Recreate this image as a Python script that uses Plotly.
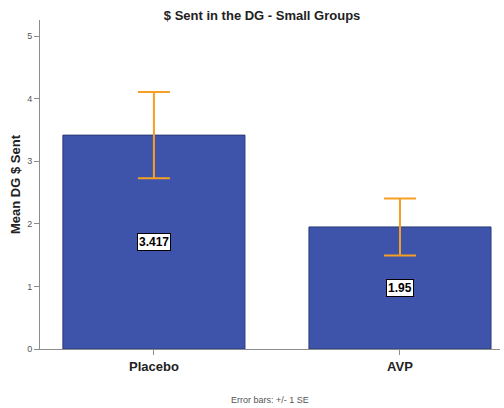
import plotly.graph_objects as go

# Mean DG dollars sent per treatment group, with standard errors
groups = ["Placebo", "AVP"]
means = [3.417, 1.95]
std_errors = [0.69, 0.455]
value_labels = ["3.417", "1.95"]

BAR_FILL = "#3E54AA"
BAR_EDGE = "#2B3A78"
ERR_COLOR = "#F5A025"
AXIS_GRAY = "#8C8C8C"
FONT = "Liberation Sans, Arial, sans-serif"

fig = go.Figure()
fig.add_trace(go.Bar(
    x=groups,
    y=means,
    width=0.74,
    marker=dict(color=BAR_FILL, line=dict(color=BAR_EDGE, width=1)),
    error_y=dict(type="data", array=std_errors, visible=True,
                 color=ERR_COLOR, thickness=2, width=16),
    hoverinfo="skip",
))

# Value boxes placed at half the bar height
for g, m, lab in zip(groups, means, value_labels):
    fig.add_annotation(
        x=g, y=m / 2, text=f"<b>{lab}</b>", showarrow=False,
        font=dict(family=FONT, size=12, color="black"),
        bgcolor="white", bordercolor="black", borderwidth=1, borderpad=1,
    )

fig.add_annotation(
    x=0.5, xref="paper", y=-0.155, yref="paper", yanchor="middle",
    text="Error bars: +/- 1 SE", showarrow=False,
    font=dict(family=FONT, size=9, color="#555555"),
)

fig.update_layout(
    width=504, height=408,
    margin=dict(l=40, r=4, t=20, b=59),
    paper_bgcolor="white", plot_bgcolor="white",
    showlegend=False,
    title=dict(text="<b>$ Sent in the DG - Small Groups</b>",
               x=0.52, xanchor="center", y=0.963, yanchor="middle",
               font=dict(family=FONT, size=13, color="#222222")),
    xaxis=dict(range=[-0.463, 1.4065], showgrid=False, zeroline=False,
               showline=True, linecolor=AXIS_GRAY, linewidth=1,
               ticks="outside", ticklen=5, tickcolor=AXIS_GRAY,
               tickfont=dict(family=FONT, size=13, color="#222222"),
               tickprefix="<b>", ticksuffix="</b>"),
    yaxis=dict(range=[0, 5.256], dtick=1, showgrid=False, zeroline=False,
               showline=True, linecolor=AXIS_GRAY, linewidth=1,
               ticks="outside", ticklen=5, tickcolor=AXIS_GRAY,
               tickfont=dict(family=FONT, size=9, color="#555555"),
               title=dict(text="<b>Mean DG $ Sent</b>", standoff=3,
                          font=dict(family=FONT, size=13, color="#222222"))),
)

fig.write_html("out.html")
